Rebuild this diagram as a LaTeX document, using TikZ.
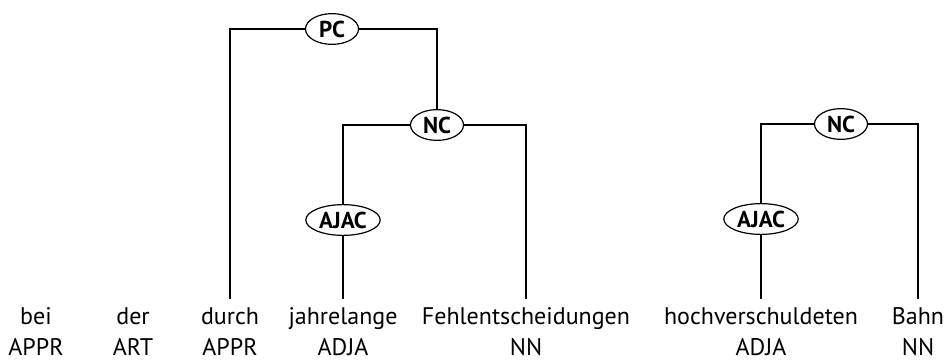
\documentclass[tikz,border=0pt]{standalone}
\usepackage{fontspec}
\setmainfont{PT Sans}
\usepackage{tikz}
\usetikzlibrary{shapes.geometric}

\tikzset{
  word/.style={anchor=base, font=\fontsize{24}{28}\selectfont, text height=17pt, text depth=6pt, inner ysep=8pt, inner xsep=0pt},
  tag/.style={anchor=base, font=\fontsize{24}{28}\selectfont, inner sep=0pt},
  phrase/.style={ellipse, draw, fill=white, line width=1.2pt, font=\bfseries\fontsize{23}{26}\selectfont, inner xsep=2.5pt, inner ysep=2.5pt, minimum width=53pt, minimum height=28pt},
  edge/.style={line width=1.2pt}
}

\begin{document}
\begin{tikzpicture}[x=1pt, y=-1pt]
\useasboundingbox (0,0) rectangle (948,362);
% tokens with their tags
\foreach \w/\t/\x [count=\i] in {bei/APPR/36, der/ART/133, durch/APPR/230, jahrelange/ADJA/343, Fehlentscheidungen/NN/526, hochverschuldeten/ADJA/761, Bahn/NN/918}{
\node[word] (w\i) at (\x,324) {\w};
\node[tag] (t\i) at (\x,355) {\t};
}
% chunks
\node[phrase] (pc) at (332,29) {PC};
\node[phrase] (nc1) at (437,125) {NC};
\node[phrase] (ajac1) at (343,220) {AJAC};
\node[phrase] (nc2) at (841,124) {NC};
\node[phrase] (ajac2) at (761,219) {AJAC};
\draw[edge] (pc.west) -| (w3.north);
\draw[edge] (pc.east) -| (nc1.north);
\draw[edge] (nc1.west) -| (ajac1.north);
\draw[edge] (nc1.east) -| (w5.north);
\draw[edge] (ajac1.south) -- (w4.north);
\draw[edge] (nc2.west) -| (ajac2.north);
\draw[edge] (nc2.east) -| (w7.north);
\draw[edge] (ajac2.south) -- (w6.north);
\end{tikzpicture}
\end{document}
